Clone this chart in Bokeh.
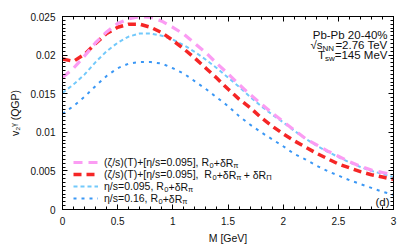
from bokeh.plotting import figure
from bokeh.models import (Range1d, LinearAxis, FixedTicker, CustomJSTickFormatter,
                          Legend, LegendItem, Label, ColumnDataSource)
from bokeh.embed import file_html
from bokeh.resources import INLINE

# ---------------- data ----------------
M = [0.0, 0.1, 0.2, 0.3, 0.4, 0.5, 0.6, 0.7, 0.8, 0.9, 1.0, 1.1, 1.2, 1.3, 1.4, 1.5,
     1.6, 1.7, 1.8, 1.9, 2.0, 2.1, 2.2, 2.3, 2.4, 2.5, 2.6, 2.7, 2.8, 2.9, 3.0]
v2_bulk_dRpi = [0.0171, 0.0183, 0.0199, 0.0216, 0.0230, 0.0241, 0.0247, 0.0250, 0.0249, 0.0244,
                0.0236, 0.0227, 0.0215, 0.0203, 0.0189, 0.0176, 0.0162, 0.0149, 0.0137, 0.0125,
                0.0114, 0.0103, 0.0092, 0.0084, 0.0076, 0.0069, 0.0062, 0.0056, 0.0051, 0.0048, 0.0045]
v2_bulk_dRpi_dRPi = [0.0195, 0.0192, 0.0201, 0.0215, 0.0228, 0.0236, 0.0240, 0.0240, 0.0236, 0.0229,
                     0.0219, 0.0208, 0.0196, 0.0183, 0.0170, 0.0156, 0.0143, 0.0132, 0.0119, 0.0108,
                     0.0098, 0.0089, 0.0081, 0.0073, 0.0066, 0.0059, 0.0054, 0.0049, 0.0045, 0.0042, 0.0039]
v2_eta0095 = [0.0151, 0.0162, 0.0175, 0.0191, 0.0205, 0.0216, 0.0224, 0.0228, 0.0228, 0.0225,
              0.0220, 0.0213, 0.0204, 0.0194, 0.0183, 0.0171, 0.0159, 0.0146, 0.0134, 0.0123,
              0.0113, 0.0102, 0.0092, 0.0083, 0.0075, 0.0068, 0.0061, 0.0055, 0.0050, 0.0046, 0.0042]
v2_eta016 = [0.0124, 0.0134, 0.0146, 0.0160, 0.0173, 0.0183, 0.0189, 0.0191, 0.0191, 0.0189,
             0.0183, 0.0176, 0.0166, 0.0156, 0.0145, 0.0134, 0.0121, 0.0110, 0.0100, 0.0091,
             0.0082, 0.0072, 0.0065, 0.0057, 0.0050, 0.0044, 0.0038, 0.0033, 0.0028, 0.0023, 0.0019]

x_ticks = [0, 0.5, 1, 1.5, 2, 2.5, 3]
y_ticks = [0, 0.005, 0.01, 0.015, 0.02, 0.025]
x_minor = [i * 0.1 for i in range(31)]
y_minor = [i * 0.0005 for i in range(51)]

FONT = "Liberation Sans"
FS = 10.5
SUB = 7.5
FSA = 11.5
SUBA = 8

# Arial / Liberation Sans advance widths (em)
W = {' ': 0.278, '\u00a0': 0.278, '(': 0.333, ')': 0.333, '/': 0.278, 's': 0.5, 'T': 0.611,
     '+': 0.584, '[': 0.278, ']': 0.278, '=': 0.584, '.': 0.278, ',': 0.278, 'R': 0.722,
     'ζ': 0.448, 'η': 0.557, 'δ': 0.557, 'π': 0.6, 'Π': 0.722, 'P': 0.667, 'b': 0.556,
     '-': 0.333, '%': 0.889, '√': 0.549, 'N': 0.722, 'e': 0.556, 'V': 0.667, 'M': 0.833,
     'w': 0.722, 'v': 0.5, 'γ': 0.5}


def tw(s, size):
    return sum(W.get(c, 0.556) for c in s) * size


p = figure(width=411, height=247, output_backend="svg", toolbar_location=None,
           x_range=Range1d(0, 3), y_range=Range1d(0, 0.025),
           min_border_left=62, min_border_right=18, min_border_top=16, min_border_bottom=38)
p.background_fill_color = "white"
p.border_fill_color = "white"
p.outline_line_color = "black"
p.outline_line_width = 1
p.xgrid.visible = False
p.ygrid.visible = False

fmt_code = "return String(Math.round(tick*10000)/10000);"


def style_axis(ax, ticks, minor, labels=True):
    ax.ticker = FixedTicker(ticks=ticks, minor_ticks=minor)
    ax.major_tick_in = 5
    ax.major_tick_out = 0
    ax.minor_tick_in = 3
    ax.minor_tick_out = 0
    ax.axis_line_color = "black"
    ax.major_tick_line_color = "black"
    ax.minor_tick_line_color = "black"
    ax.major_label_text_font = FONT
    ax.major_label_text_font_size = "10px"
    ax.major_label_text_color = "#111111"
    if labels:
        ax.formatter = CustomJSTickFormatter(code=fmt_code)
        ax.major_label_standoff = 7
    else:
        ax.formatter = CustomJSTickFormatter(code="return '';")
        ax.major_label_standoff = 0


style_axis(p.xaxis[0], x_ticks, x_minor)
style_axis(p.yaxis[0], y_ticks, y_minor)
p.xaxis[0].axis_label = "M [GeV]"
p.xaxis[0].axis_label_text_font = FONT
p.xaxis[0].axis_label_text_font_size = "10.5px"
p.xaxis[0].axis_label_text_font_style = "normal"
p.xaxis[0].axis_label_text_color = "#111111"
p.xaxis[0].axis_label_standoff = 4

p.yaxis[0].axis_label = "v\u2082\u1d5e (QGP)"
p.yaxis[0].axis_label_text_font = FONT
p.yaxis[0].axis_label_text_font_size = "10.5px"
p.yaxis[0].axis_label_text_font_style = "normal"
p.yaxis[0].axis_label_text_color = "#111111"
p.yaxis[0].axis_label_standoff = 6

top = LinearAxis()
style_axis(top, x_ticks, x_minor, labels=False)
p.add_layout(top, "above")
right = LinearAxis()
style_axis(right, y_ticks, y_minor, labels=False)
p.add_layout(right, "right")

src = ColumnDataSource(dict(M=M, a=v2_bulk_dRpi, b=v2_bulk_dRpi_dRPi, c=v2_eta0095, d=v2_eta016))
r_d = p.line("M", "d", source=src, line_color="#3a97f5", line_width=2, line_dash="3 5")
r_c = p.line("M", "c", source=src, line_color="#72c9fb", line_width=2, line_dash="4 3")
r_b = p.line("M", "b", source=src, line_color="#f52626", line_width=3.5, line_dash="8 5")
r_a = p.line("M", "a", source=src, line_color="#fb9cf3", line_width=3.2, line_dash="9 6")

# ---------------- legend ----------------
prefixes = ["(ζ/s)(T)+[η/s=0.095], R", "(ζ/s)(T)+[η/s=0.095], \u00a0R",
            "η/s=0.095, R", "η/s=0.16, R"]
rens = [r_a, r_b, r_c, r_d]
legend = Legend(items=[LegendItem(label=t, renderers=[r]) for t, r in zip(prefixes, rens)],
                location=(11, 5), padding=0, spacing=0, glyph_width=25, glyph_height=12,
                label_height=12, label_standoff=6, border_line_alpha=0,
                background_fill_alpha=0, label_text_font=FONT, label_text_font_size="10.5px",
                label_text_color="#111111")
p.add_layout(legend)


def lab(x, y, text, size, align="left"):
    p.add_layout(Label(x=x, y=y, x_units="screen", y_units="screen", text=text,
                       text_font=FONT, text_font_size=f"{size}px", text_color="#111111",
                       text_align=align, text_baseline="middle"))


text_x0 = 11 + 25 + 6
rows = [47, 35, 23, 11]
tails = [[("0", True), ("+δR", False), ("π", True)],
         [("0", True), ("+δR", False), ("π", True), (" + δR", False), ("Π", True)],
         [("0", True), ("+δR", False), ("π", True)],
         [("0", True), ("+δR", False), ("π", True)]]
for pre, yrow, tail in zip(prefixes, rows, tails):
    x = text_x0 + tw(pre, FS)
    for t, is_sub in tail:
        if is_sub:
            lab(x, yrow - 3, t, SUB)
            x += tw(t, SUB)
        else:
            lab(x, yrow, t.replace(" ", "\u00a0"), FS)
            x += tw(t, FS)

# ---------------- annotation ----------------
xr = 325
lab(xr, 175, "Pb-Pb 20-40%", FSA, align="right")
lab(xr, 164.7, "=2.76 TeV", FSA, align="right")
x2 = xr - tw("=2.76 TeV", FSA)
lab(x2, 161.5, "NN", SUBA, align="right")
lab(x2 - tw("NN", SUBA), 164.7, "√s", FSA, align="right")
lab(xr, 154.7, "=145 MeV", FSA, align="right")
x3 = xr - tw("=145 MeV", FSA)
lab(x3, 151.5, "sw", SUBA, align="right")
lab(x3 - tw("sw", SUBA), 154.7, "T", FSA, align="right")
lab(327, 8, "(d)", FSA, align="right")

open("out.html", "w").write(file_html(p, INLINE))
